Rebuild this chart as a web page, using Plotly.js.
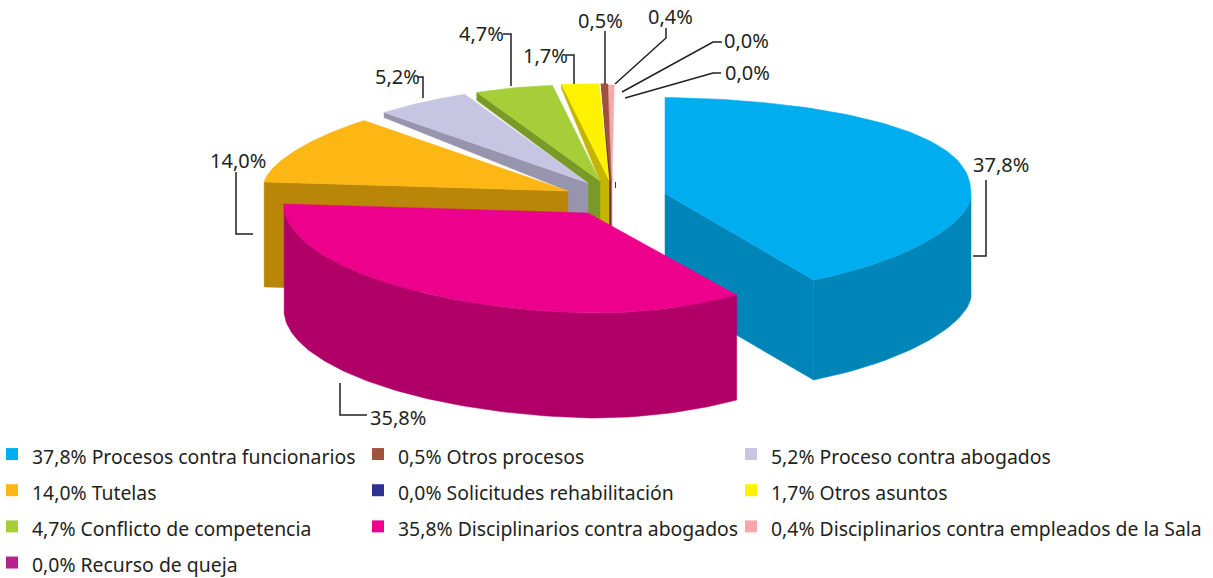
<!DOCTYPE html>
<html>
<head>
<meta charset="utf-8">
<script src="https://cdn.plot.ly/plotly-3.0.1.min.js"></script>
<style>html,body{margin:0;padding:0;background:#fff}</style>
</head>
<body>
<div id="chart" style="width:1213px;height:578px"></div>
<script>
// ---- data, clockwise from twelve o'clock ----
var categories = ["Procesos contra funcionarios","Disciplinarios contra abogados","Tutelas","Proceso contra abogados","Conflicto de competencia","Otros asuntos","Otros procesos","Disciplinarios contra empleados de la Sala","Solicitudes rehabilitación","Recurso de queja"];
var values = [37.8,35.8,14.0,5.2,4.7,1.7,0.5,0.4,0.0,0.0];
var topColors = ["#00AEEF","#EC008C","#FDB714","#C6C5E2","#A6CE39","#FFF200","#A0523D","#F7A8AD","#2E3192","#B5218F"];
var wallColors = ["#0085B8","#B00068","#B98608","#9695AD","#7A9A28","#C4B500","#6B3427","#C9878C","#2E3192","#B5218F"];
var legendColumns = [[0,2,4,9],[6,8,1],[3,5,7]];

// ---- projection of the tilted, exploded pie ----
var apexX = [665,588,568,588,600,609,611,612], apexY = [193.5,213,191,183,181,180,180,181];
var depth = [100,105,105,103,103,103,103,103];
var rimDrop = [0,0,0,5,8,4,3,3];
var frontRightExp = [1.2,1.6,1,1,1,1,1,1];
var drawOrder = [7,6,5,4,3,2,0,1];
function warp(a){
  return a + 19.2*Math.pow(Math.sin(a*Math.PI/360),3.27)
           + 3*Math.exp(-Math.pow((a-325)/11,2)/2)
           + 1.4*Math.exp(-Math.pow((a-356)/2.5,2)/2);
}
function rim(i,a){
  var t = warp(a)*Math.PI/180, c = Math.cos(t), s = Math.sin(t), right = s>=0, ry, e;
  if (c>0){ ry = 96; e = right ? 0.8 : 1.3; }
  else    { ry = 100; e = right ? frontRightExp[i] : 1; }
  var y = ry*Math.pow(Math.abs(c),e)*(c>0?-1:1) + (right?3:8)*s;
  return [apexX[i]+(right?306:304)*s, apexY[i]+y, warp(a)];
}
var total = values.reduce(function(s,v){return s+v;},0);
var startA = [], endA = [], acc = 0;
values.forEach(function(v){ startA.push(acc/total*360); acc += v; endA.push(acc/total*360); });
function arc(i){
  var pts = [], n = 96;
  for (var k=0;k<=n;k++) pts.push(rim(i,startA[i]+(endA[i]-startA[i])*k/n));
  return pts;
}
var traces = [];
function poly(pts,color){
  var p = pts.concat([pts[0]]);
  traces.push({type:"scatter",mode:"lines",x:p.map(function(q){return q[0];}),y:p.map(function(q){return q[1];}),
    fill:"toself",fillcolor:color,line:{width:0.5,color:color},hoverinfo:"skip",showlegend:false});
}
drawOrder.forEach(function(i){
  var A = [apexX[i],apexY[i]], d = depth[i], a = arc(i), wall = wallColors[i];
  var S = a[0], E = a[a.length-1];
  if (i<=2){
    var front = a.filter(function(q){return q[2]>=90 && q[2]<=272;});
    if (front.length>1) poly(front.concat(front.slice().reverse().map(function(q){return [q[0],q[1]+d];})),wall);
    if (i===0) poly([A,E,[E[0],E[1]+d],[A[0],A[1]+d]],wall);
    if (i===2) poly([A,S,[S[0],S[1]+d],[A[0],A[1]+d]],wall);
  } else {
    var nx = i===3 ? 2 : i-1;                 // neighbour in front of this cut face
    poly([S,A,[A[0],A[1]+d],[apexX[nx],A[1]+d],[apexX[nx],apexY[nx]],[S[0],S[1]+rimDrop[i]]],wall);
  }
  poly([A].concat(a.map(function(q){return [q[0],q[1]];})),topColors[i]);
});

// zero-value sliver behind the stack
traces.push({type:"scatter",mode:"lines",x:[615.5,615.5],y:[182,188],line:{color:topColors[8],width:1},hoverinfo:"skip",showlegend:false});

// ---- leader lines ----
var leaders = [
  [[973,256],[986,256],[986,180]],
  [[340,383],[340,415],[367,415]],
  [[236,172],[236,234],[253,234]],
  [[417,77],[423,77],[423,98]],
  [[503,34],[511,34],[511,86]],
  [[566,55],[574,55],[574,84]],
  [[605,31],[605,84]],
  [[666,28],[666,38],[615,84]],
  [[722,42],[713,42],[622,92]],
  [[721,73],[713,73],[625,98]]
];
leaders.forEach(function(l){
  traces.push({type:"scatter",mode:"lines",x:l.map(function(p){return p[0];}),y:l.map(function(p){return p[1];}),
    line:{color:"#231F20",width:1.5},hoverinfo:"skip",showlegend:false});
});

// ---- labels ----
var FONT = "Noto Sans";
function pct(v){ return v.toFixed(1).replace(".",",")+"%"; }
var labelPos = [[972,164],[369,417],[209,160],[374,76],[458,33],[522,55],[577,20],[647,16],[723,40],[724,72]];
var annotations = values.map(function(v,i){
  return {text:pct(v),x:labelPos[i][0],y:labelPos[i][1],xref:"x",yref:"y",xanchor:"left",yanchor:"middle",
    showarrow:false,font:{family:FONT,size:20,color:"#231F20"},borderpad:0};
});

// ---- legend: three real Plotly legends, one per column ----
var legendIds = ["legend","legend2","legend3"];
legendColumns.forEach(function(col,c){
  col.forEach(function(i){
    traces.push({type:"scatter",mode:"markers",x:[null],y:[null],name:'<span style="font-size:19.4px">'+pct(values[i])+" "+categories[i]+"</span>",
      marker:{symbol:"square",size:15,color:topColors[i]},legend:legendIds[c],showlegend:true,hoverinfo:"skip"});
  });
});
function legendAt(px){
  return {x:px/1213,y:1-431/578,xanchor:"left",yanchor:"top",orientation:"v",traceorder:"normal",bgcolor:"rgba(0,0,0,0)",
    borderwidth:0,itemsizing:"constant",font:{family:FONT,size:25.5,color:"#231F20"}};
}
var layout = {
  width:1213,height:578,margin:{l:0,r:0,t:0,b:0,autoexpand:false},paper_bgcolor:"#fff",plot_bgcolor:"#fff",
  xaxis:{range:[0,1213],visible:false,fixedrange:true},
  yaxis:{range:[578,0],visible:false,fixedrange:true},
  annotations:annotations,
  legend:legendAt(-8),legend2:legendAt(358),legend3:legendAt(731)
};
Plotly.newPlot("chart",traces,layout,{displayModeBar:false,responsive:false});
</script>
</body>
</html>
